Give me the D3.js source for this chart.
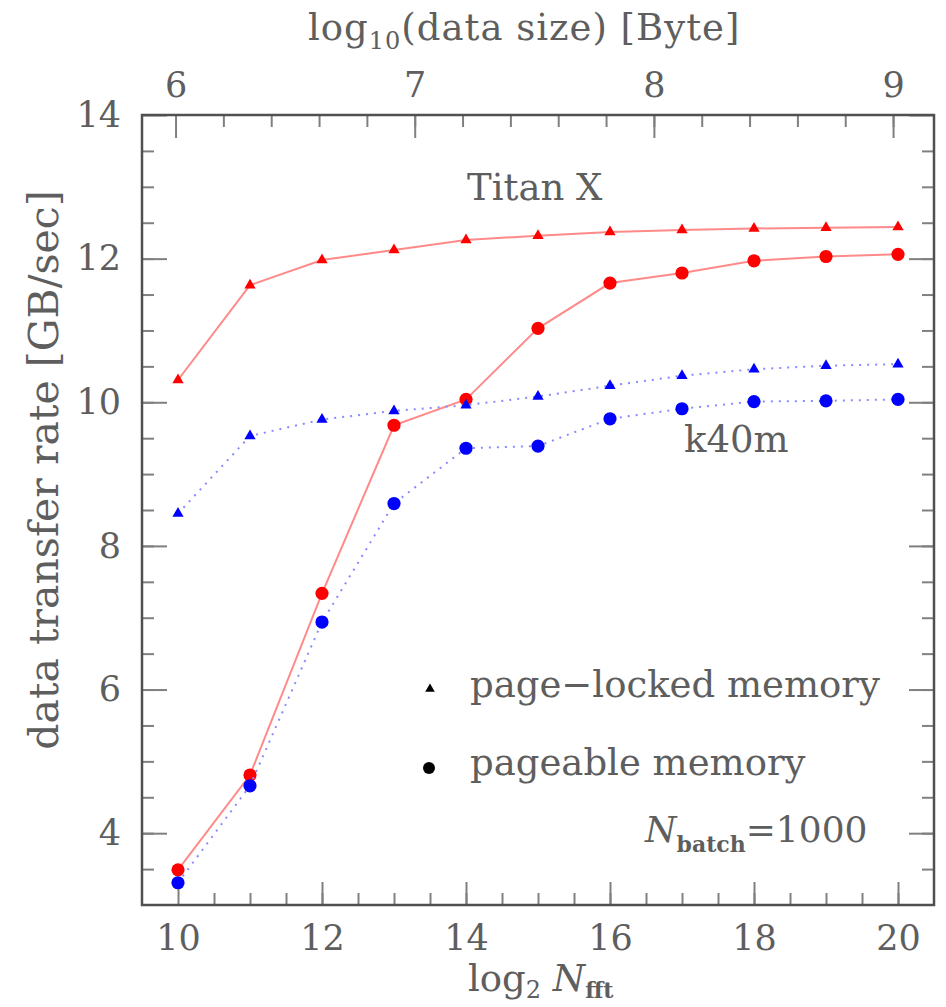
<!DOCTYPE html>
<html>
<head>
<meta charset="utf-8">
<script src="https://cdn.jsdelivr.net/npm/d3@7/dist/d3.min.js"></script>
<style>
  html, body { margin: 0; padding: 0; background: #fff; }
  svg text { font-family: "DejaVu Serif", serif; fill: #5e5e5e; }
  .tick text { font-size: 35px; }
</style>
</head>
<body>
<svg id="chart" width="946" height="1007"></svg>
<script>
// Data: log2 of the FFT length and transfer rates [GB/sec].
const nfft          = [ 10, 11, 12, 13, 14, 15, 16, 17, 18, 19, 20 ];
const titanLocked   = [ 10.31, 11.63, 11.98, 12.12, 12.26, 12.32, 12.37, 12.40, 12.42, 12.43, 12.44 ];
const titanPageable = [ 3.49, 4.81, 7.34, 9.68, 10.04, 11.03, 11.66, 11.80, 11.97, 12.03, 12.06 ];
const k40mLocked    = [ 8.45, 9.53, 9.76, 9.88, 9.96, 10.08, 10.23, 10.37, 10.46, 10.51, 10.53 ];
const k40mPageable  = [ 3.31, 4.66, 6.94, 8.59, 9.36, 9.39, 9.77, 9.91, 10.01, 10.02, 10.04 ];

// Tick labels.
const xTicks   = [ 10, 12, 14, 16, 18, 20 ];
const yTicks   = [ 4, 6, 8, 10, 12, 14 ];
const topTicks = [ 6, 7, 8, 9 ];

// Sizes of the plot box.
const margin = { top: 115, right: 12, bottom: 102, left: 142 };
const width  = 946 - margin.left - margin.right;
const height = 1007 - margin.top - margin.bottom;

const svg = d3.select( '#chart' );
const g   = svg.append( 'g' ).attr( 'transform', `translate( ${margin.left}, ${margin.top} )` );

// Scales. The top axis is the data size: 2^N points x 1000 batches, one byte each.
const x    = d3.scaleLinear( ).domain( [ 9.5, 20.5 ] ).range( [ 0, width ] );
const y    = d3.scaleLinear( ).domain( [ 3, 14 ] ).range( [ height, 0 ] );
const xTop = d3.scaleLinear( )
  .domain( x.domain( ).map( v => v * Math.log10( 2 ) + 3 ) )
  .range( [ 0, width ] );

// Draws one axis and strips the domain line (the frame is drawn on its own).
const drawAxis = ( axis, transform ) => {
  const a = g.append( 'g' ).attr( 'transform', transform ).call( axis );
  a.select( '.domain' ).remove( );
  a.selectAll( '.tick line' ).attr( 'stroke', '#808080' ).attr( 'stroke-width', 2 );
  return a;
};

// Minor ticks first, then the major ones with labels.
drawAxis( d3.axisBottom( x ).tickValues( d3.range( 10.5, 20.5, 0.5 ) ).tickSize( -12 ).tickFormat( '' ),
  `translate( 0, ${height} )` );
drawAxis( d3.axisBottom( x ).tickValues( xTicks ).tickSize( -23 ).tickPadding( 20 ).tickFormat( d3.format( 'd' ) ),
  `translate( 0, ${height} )` );
drawAxis( d3.axisTop( xTop ).tickValues( d3.range( 6.2, 9.01, 0.2 ) ).tickSize( -12 ).tickFormat( '' ), null );
drawAxis( d3.axisTop( xTop ).tickValues( topTicks ).tickSize( -23 ).tickPadding( 18 ).tickFormat( d3.format( 'd' ) ), null );
drawAxis( d3.axisLeft( y ).tickValues( d3.range( 3.5, 14, 0.5 ) ).tickSize( -12 ).tickFormat( '' ), null );
drawAxis( d3.axisLeft( y ).tickValues( yTicks ).tickSize( -25 ).tickPadding( 21 ).tickFormat( d3.format( 'd' ) ), null );
drawAxis( d3.axisRight( y ).tickValues( d3.range( 3.5, 14, 0.5 ) ).tickSize( -12 ).tickFormat( '' ),
  `translate( ${width}, 0 )` );
drawAxis( d3.axisRight( y ).tickValues( yTicks ).tickSize( -25 ).tickFormat( '' ),
  `translate( ${width}, 0 )` );

// The frame.
g.append( 'rect' )
  .attr( 'width', width ).attr( 'height', height )
  .attr( 'fill', 'none' ).attr( 'stroke', '#505050' ).attr( 'stroke-width', 2.5 );

// Lines and markers for the four series.
const line = d3.line( ).x( d => x( d[0] ) ).y( d => y( d[1] ) );
const series = [
  { values: titanLocked,   line: '#ff8a8a', dash: null,  mark: '#ff0000', tri: true  },
  { values: titanPageable, line: '#ff8a8a', dash: null,  mark: '#ff0000', tri: false },
  { values: k40mLocked,    line: '#8a8aff', dash: '2,6', mark: '#0000ff', tri: true  },
  { values: k40mPageable,  line: '#8a8aff', dash: '2,6', mark: '#0000ff', tri: false }
];

series.forEach( s => {
  const pts = nfft.map( ( n, i ) => [ n, s.values[i] ] );
  g.append( 'path' )
    .attr( 'd', line( pts ) )
    .attr( 'fill', 'none' )
    .attr( 'stroke', s.line )
    .attr( 'stroke-width', 2 )
    .attr( 'stroke-dasharray', s.dash );
  if ( s.tri ) {
    g.selectAll( null ).data( pts ).enter( ).append( 'path' )
      .attr( 'd', d3.symbol( d3.symbolTriangle, 55 ) )
      .attr( 'transform', d => `translate( ${x( d[0] )}, ${y( d[1] )} )` )
      .attr( 'fill', s.mark );
  } else {
    g.selectAll( null ).data( pts ).enter( ).append( 'circle' )
      .attr( 'cx', d => x( d[0] ) ).attr( 'cy', d => y( d[1] ) )
      .attr( 'r', 6.6 )
      .attr( 'fill', s.mark );
  }
} );

// Legend.
svg.append( 'path' )
  .attr( 'd', d3.symbol( d3.symbolTriangle, 40 ) )
  .attr( 'transform', 'translate( 430, 689 )' )
  .attr( 'fill', '#000' );
svg.append( 'circle' ).attr( 'cx', 429 ).attr( 'cy', 768 ).attr( 'r', 6 ).attr( 'fill', '#000' );
svg.append( 'text' ).attr( 'x', 470 ).attr( 'y', 697 ).style( 'font-size', '37px' ).text( 'page−locked memory' );
svg.append( 'text' ).attr( 'x', 470 ).attr( 'y', 775 ).style( 'font-size', '37px' ).text( 'pageable memory' );

// Labels inside the plot.
svg.append( 'text' ).attr( 'x', 467 ).attr( 'y', 200 ).style( 'font-size', '37px' ).text( 'Titan X' );
svg.append( 'text' ).attr( 'x', 684 ).attr( 'y', 452 ).style( 'font-size', '37px' ).text( 'k40m' );

const nb = svg.append( 'text' ).attr( 'x', 645 ).attr( 'y', 842 ).style( 'font-size', '36px' );
nb.append( 'tspan' ).style( 'font-style', 'italic' ).text( 'N' );
nb.append( 'tspan' ).attr( 'dy', 10 ).style( 'font-size', '22px' ).style( 'font-weight', 'bold' ).text( 'batch' );
nb.append( 'tspan' ).attr( 'dy', -10 ).text( '=1000' );

// Axis titles.
const tt = svg.append( 'text' ).attr( 'x', 308 ).attr( 'y', 40 )
  .style( 'font-size', '37px' ).style( 'letter-spacing', '1px' );
tt.append( 'tspan' ).text( 'log' );
tt.append( 'tspan' ).attr( 'dy', 9 ).style( 'font-size', '24px' ).text( '10' );
tt.append( 'tspan' ).attr( 'dy', -9 ).text( '(data size) [Byte]' );

const bt = svg.append( 'text' ).attr( 'x', 468 ).attr( 'y', 991 ).style( 'font-size', '37px' );
bt.append( 'tspan' ).text( 'log' );
bt.append( 'tspan' ).attr( 'dy', 7 ).style( 'font-size', '24px' ).text( '2' );
bt.append( 'tspan' ).attr( 'dy', -7 ).text( ' ' );
bt.append( 'tspan' ).style( 'font-style', 'italic' ).text( 'N' );
bt.append( 'tspan' ).attr( 'dy', 7 ).style( 'font-size', '22px' ).style( 'font-weight', 'bold' ).text( 'fft' );

svg.append( 'text' )
  .attr( 'transform', 'translate( 58, 470 ) rotate( -90 )' )
  .attr( 'text-anchor', 'middle' )
  .style( 'font-size', '41px' )
  .text( 'data transfer rate [GB/sec]' );
</script>
</body>
</html>
